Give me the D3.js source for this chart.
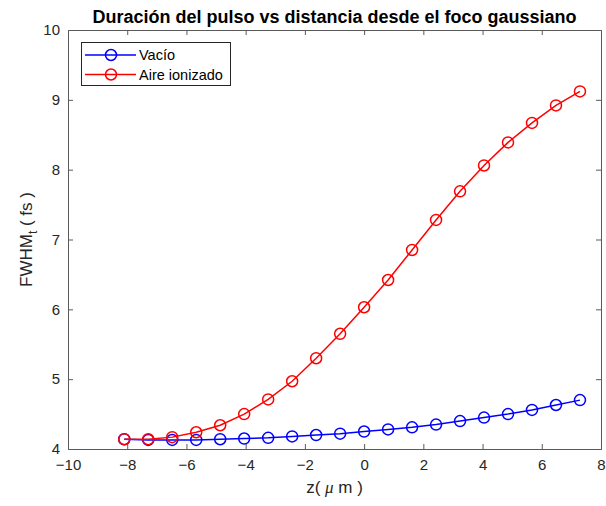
<!DOCTYPE html>
<html>
<head>
<meta charset="utf-8">
<script src="https://cdn.jsdelivr.net/npm/d3@7"></script>
<style>
  body { margin: 0; background: #fff; }
  svg { display: block; font-family: "Liberation Sans", Arial, Helvetica, sans-serif; }
</style>
</head>
<body>
<svg id="chart" width="606" height="506"></svg>
<script>
// Propagation distance z (µm) and pulse duration FWHM (fs)
const zValues = [-8.1, -7.29, -6.48, -5.67, -4.86, -4.05, -3.24, -2.43, -1.62, -0.81,
                 0, 0.81, 1.62, 2.43, 3.24, 4.05, 4.86, 5.67, 6.48, 7.29];
const vacio = [4.14, 4.13, 4.13, 4.13, 4.14, 4.15, 4.16, 4.18, 4.20, 4.22,
               4.25, 4.28, 4.31, 4.35, 4.40, 4.45, 4.50, 4.56, 4.63, 4.70];
const aireIonizado = [4.14, 4.14, 4.17, 4.24, 4.34, 4.50, 4.71, 4.97, 5.30, 5.65,
                      6.03, 6.42, 6.85, 7.28, 7.69, 8.06, 8.39, 8.67, 8.92, 9.12];
const xTicks = [-10, -8, -6, -4, -2, 0, 2, 4, 6, 8];
const yTicks = [4, 5, 6, 7, 8, 9, 10];
const seriesNames = ["Vacío", "Aire ionizado"];
const seriesColors = ["#0000ff", "#ff0000"];

const svg = d3.select("#chart");
const margin = { left: 68, right: 5, top: 30, bottom: 57 };
const W = 606, H = 506;
const x = d3.scaleLinear().domain([-10, 8]).range([margin.left, W - margin.right]);
const y = d3.scaleLinear().domain([4, 10]).range([H - margin.bottom, margin.top]);

const axisColor = "#5a5a5a";
const textColor = "#262626";

// Axes with inward ticks on all four sides
const tickLen = 5;
const gx = svg.append("g").attr("transform", `translate(0,${y(4)})`)
  .call(d3.axisBottom(x).tickValues(xTicks).tickSize(-tickLen).tickPadding(10).tickFormat(d3.format("d")));
const gxTop = svg.append("g").attr("transform", `translate(0,${y(10)})`)
  .call(d3.axisTop(x).tickValues(xTicks).tickSize(-tickLen).tickFormat(""));
const gy = svg.append("g").attr("transform", `translate(${x(-10)},0)`)
  .call(d3.axisLeft(y).tickValues(yTicks).tickSize(-tickLen).tickPadding(8).tickFormat(d3.format("d")));
const gyRight = svg.append("g").attr("transform", `translate(${x(8)},0)`)
  .call(d3.axisRight(y).tickValues(yTicks).tickSize(-tickLen).tickFormat(""));

[gx, gxTop, gy, gyRight].forEach(g => {
  g.selectAll("path.domain").attr("stroke", axisColor).attr("stroke-width", 1);
  g.selectAll(".tick line").attr("stroke", axisColor).attr("stroke-width", 1);
  g.selectAll(".tick text").attr("fill", textColor).style("font-size", "15px")
    .style("font-family", "'Liberation Sans', Arial, sans-serif");
});
// Remove end ticks that coincide with the frame
gx.selectAll(".tick").filter(d => d === -10 || d === 8).select("line").remove();
gxTop.selectAll(".tick").filter(d => d === -10 || d === 8).select("line").remove();
gy.selectAll(".tick").filter(d => d === 4 || d === 10).select("line").remove();
gyRight.selectAll(".tick").filter(d => d === 4 || d === 10).select("line").remove();

// Title
svg.append("text")
  .attr("x", (x(-10) + x(8)) / 2).attr("y", 23)
  .attr("text-anchor", "middle")
  .attr("fill", "#000")
  .style("font-size", "18px").style("font-weight", "bold")
  .text("Duración del pulso vs distancia desde el foco gaussiano");

// X label
const xl = svg.append("text")
  .attr("x", (x(-10) + x(8)) / 2).attr("y", 493)
  .attr("text-anchor", "middle").attr("fill", textColor)
  .style("font-size", "17px");
xl.append("tspan").text("z( ");
xl.append("tspan").style("font-style", "italic").style("font-family", "'Liberation Serif', 'Times New Roman', serif").text("μ");
xl.append("tspan").text(" m )");

// Y label
const yl = svg.append("text")
  .attr("transform", `translate(32,${(y(4) + y(10)) / 2}) rotate(-90)`)
  .attr("text-anchor", "middle").attr("fill", textColor)
  .style("font-size", "17px");
yl.append("tspan").text("FWHM");
yl.append("tspan").attr("dy", 5).style("font-size", "12px").text("t");
yl.append("tspan").attr("dy", -5).text(" ( fs )");

// Series
const seriesData = [vacio, aireIonizado];
const line = d3.line().x(d => x(d[0])).y(d => y(d[1]));
seriesData.forEach((vals, i) => {
  const pts = zValues.map((z, j) => [z, vals[j]]);
  svg.append("path").datum(pts)
    .attr("fill", "none").attr("stroke", seriesColors[i]).attr("stroke-width", 1.5)
    .attr("d", line);
  svg.append("g").selectAll("circle").data(pts).join("circle")
    .attr("cx", d => x(d[0])).attr("cy", d => y(d[1])).attr("r", 5.5)
    .attr("fill", "none").attr("stroke", seriesColors[i]).attr("stroke-width", 1.5);
});

// Legend
const lg = svg.append("g");
lg.append("rect").attr("x", 81.5).attr("y", 42.5).attr("width", 149).attr("height", 43)
  .attr("fill", "#fff").attr("stroke", "#262626").attr("stroke-width", 1);
seriesNames.forEach((name, i) => {
  const ly = 55 + i * 19.5;
  lg.append("line").attr("x1", 85).attr("x2", 136).attr("y1", ly).attr("y2", ly)
    .attr("stroke", seriesColors[i]).attr("stroke-width", 1.5);
  lg.append("circle").attr("cx", 111).attr("cy", ly).attr("r", 5.5)
    .attr("fill", "none").attr("stroke", seriesColors[i]).attr("stroke-width", 1.5);
  lg.append("text").attr("x", 139).attr("y", ly + 5).attr("fill", "#000")
    .style("font-size", "14.5px").text(name);
});
</script>
</body>
</html>
